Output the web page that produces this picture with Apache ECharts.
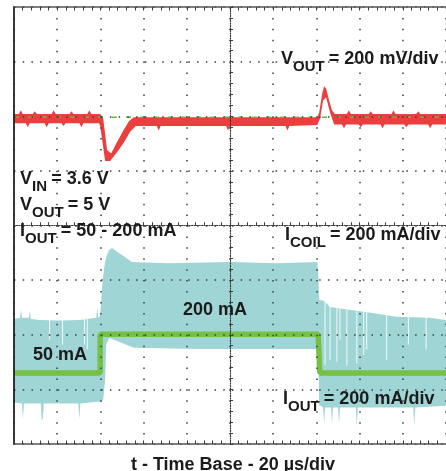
<!DOCTYPE html>
<html><head><meta charset="utf-8">
<script src="https://cdn.jsdelivr.net/npm/echarts@6/dist/echarts.min.js"></script>
<style>html,body{margin:0;padding:0;background:#fff}#c{width:446px;height:471px}</style>
</head><body><div id="c"></div>
<script>
// Horizontal: time in µs relative to screen centre (20 µs/div). Vertical: graticule divisions.
const timeTicks = [-100, 100, 20];   // min, max, interval
const divTicks = [-4, 4, 1];

// V_OUT trace (red) envelope
const redUpT = [-100,-97.7,-96.8,-95.9,-91.3,-90.4,-89.4,-82.6,-81.6,-80.7,-74.3,-73.4,-72.5,-66.1,-65.1,-64.2,-60.1,
  -58.7,-56.9,-55.0,-52.3,-49.5,-46.8,-44.5,
  40.4,41.3,42.7,43.6,44.5,45.9,47.2,
  48.6,54.1,55.0,56.0,64.2,65.1,66.1,74.8,75.7,76.6,86.2,87.2,88.1,100];
const redUpV = [2.04,2.04,2.11,2.04,2.04,2.09,2.04,2.04,2.11,2.04,2.04,2.09,2.04,2.04,2.11,2.04,2.04,
  1.96,1.38,1.32,1.53,1.73,1.91,1.98,
  1.98,2.07,2.42,2.55,2.51,2.29,2.11,
  2.04,2.04,2.11,2.04,2.04,2.09,2.04,2.04,2.11,2.04,2.04,2.09,2.04,2.04];
const redLoT = [-100,-94.5,-93.6,-92.7,-85.8,-84.9,-83.9,-78.0,-77.1,-76.1,-69.7,-68.8,-67.9,-60.6,
  -60.1,-57.8,-55.5,-52.3,-49.1,-46.3,-43.6,
  -33.9,-33.0,-32.1,-1.8,-0.9,0,25.7,26.6,27.5,
  40.4,41.7,43.1,44.5,46.3,48.2,
  51.8,52.8,53.7,59.6,60.6,61.5,69.7,70.6,71.6,80.7,81.6,82.6,91.7,92.7,93.6,100];
const redLoV = [1.87,1.87,1.80,1.87,1.87,1.80,1.87,1.87,1.82,1.87,1.87,1.80,1.87,1.87,
  1.82,1.18,1.18,1.34,1.52,1.71,1.82,
  1.82,1.74,1.82,1.82,1.74,1.82,1.82,1.74,1.82,
  1.84,1.96,2.29,2.35,2.07,1.85,
  1.85,1.78,1.85,1.85,1.80,1.85,1.85,1.78,1.85,1.85,1.80,1.85,1.85,1.78,1.85,1.85];
// green dashed reference level on the V_OUT channel
const refT = [-100, 100];
const refV = [1.98, 1.98];

// I_COIL trace (cyan) envelope
const cyUpT = [-100,-97.2,-96.8,-96.3,-93.1,-92.7,-92.2,-88.1,-78.9,-69.7,-61.9,-61.5,-61.0,-60.1,-59.2,-58.3,-57.3,-56.0,-54.6,-52.3,-50.0,-45.4,-28.4,0,22.0,40.4,40.8,41.3,43.6,46.3,61.9,77.1,92.2,100];
const cyUpV = [-1.71,-1.69,-1.54,-1.69,-1.69,-1.56,-1.71,-1.73,-1.74,-1.73,-1.69,-1.51,-1.69,-1.65,-1.12,-0.78,-0.58,-0.45,-0.41,-0.48,-0.54,-0.67,-0.69,-0.67,-0.69,-0.67,-0.81,-1.36,-1.38,-1.49,-1.58,-1.67,-1.69,-1.73];
const cyLoT = [-100,-96.3,-95.9,-95.4,-87.6,-87.2,-86.7,-86.2,-70.2,-69.7,-69.3,-60.6,-60.1,-58.7,-57.8,-57.3,-56.0,-53.7,-50.0,-44.5,-14.7,40.4,40.8,41.3,43.1,43.6,44.0,46.8,47.2,47.7,50.0,50.5,50.9,58.3,58.7,59.2,84.9,85.3,85.8,100];
const cyLoV = [-3.24,-3.26,-3.55,-3.26,-3.26,-3.55,-3.55,-3.26,-3.26,-3.55,-3.26,-3.22,-3.24,-3.19,-2.82,-2.18,-2.06,-2.09,-2.15,-2.24,-2.26,-2.26,-2.27,-3.28,-3.33,-3.64,-3.33,-3.33,-3.64,-3.33,-3.33,-3.64,-3.33,-3.33,-3.68,-3.33,-3.33,-3.68,-3.33,-3.30];
// gaps (white streaks) inside the I_COIL band
const gapT = [-83.5,-77.5,-67.4,-66.1,44.0,46.3,49.5,50.9,54.1,58.7,61.9,63.3,72.5,82.6,90.8];
const gapTop = -1.2;
const gapLo = [-2.09,-2.18,-2.18,-2.27,-2.55,-2.46,-2.49,-2.09,-2.57,-2.53,-2.37,-2.27,-2.46,-2.18,-2.27];

// I_OUT trace (green)
const ioutT = [-100, -60.1, -60.1, 40.8, 41.6, 100];
const ioutV = [-2.70, -2.70, -1.99, -1.99, -2.70, -2.70];

const FONT = '"Liberation Sans", Arial, Helvetica, sans-serif';
const TXT = '#1b1b1b';
const GRID = '#3c3c3c';

const chart = echarts.init(document.getElementById('c'), null, {renderer: 'canvas'});

function band(upT, upV, loT, loV, color, z) {
  return {
    type: 'custom', z: z, silent: true, clip: true,
    xAxisIndex: 0, yAxisIndex: 0,
    data: [[0, 0]],
    renderItem: function (params, api) {
      const pts = [];
      for (let i = 0; i < upT.length; i++) pts.push(api.coord([upT[i], upV[i]]));
      for (let i = loT.length - 1; i >= 0; i--) pts.push(api.coord([loT[i], loV[i]]));
      return {type: 'polygon', shape: {points: pts}, style: {fill: color}};
    }
  };
}

const rich = {
  m: {fontFamily: FONT, fontWeight: 'bold', fontSize: 18, lineHeight: 30, fill: TXT, color: TXT},
  s: {fontFamily: FONT, fontWeight: 'bold', fontSize: 15, lineHeight: 18, verticalAlign: 'bottom', fill: TXT, color: TXT}
};
function label(x, y, text) {
  return {type: 'text', x: x, y: y, z: 20, silent: true,
    style: {text: text, rich: rich, align: 'left', verticalAlign: 'top', font: 'bold 18px ' + FONT, fill: TXT}};
}

const tickStyle = {color: GRID, width: 1};

const option = {
  animation: false,
  backgroundColor: '#fff',
  grid: {left: 14, top: 7, width: 436, height: 437, show: false},
  xAxis: [
    { // centre horizontal line + vertical grid lines
      type: 'value', min: timeTicks[0], max: timeTicks[1], interval: timeTicks[2], z: 6,
      axisLine: {show: true, onZero: true, onZeroAxisIndex: 0, lineStyle: {color: GRID, width: 1.2, type: [1.2, 1.3]}},
      axisTick: {show: true, inside: true, length: 3, lineStyle: tickStyle},
      minorTick: {show: true, splitNumber: 5, length: 3, lineStyle: tickStyle},
      axisLabel: {show: false},
      splitLine: {show: true, lineStyle: {color: GRID, width: 1.5, type: [1.5, 9.425]}}
    },
    {
      type: 'value', min: timeTicks[0], max: timeTicks[1], interval: timeTicks[2], z: 6,
      axisLine: {show: false, onZero: true, onZeroAxisIndex: 0},
      axisTick: {show: true, inside: false, length: 3, lineStyle: tickStyle},
      minorTick: {show: true, splitNumber: 5, length: 3, lineStyle: tickStyle},
      axisLabel: {show: false}, splitLine: {show: false}
    },
    { // top border
      type: 'value', position: 'top', min: timeTicks[0], max: timeTicks[1], interval: timeTicks[2], z: 6,
      axisLine: {show: true, onZero: false, lineStyle: {color: '#555', width: 1.6}},
      axisTick: {show: true, inside: true, length: 3.5, lineStyle: tickStyle},
      minorTick: {show: true, splitNumber: 5, length: 3.5, lineStyle: tickStyle},
      axisLabel: {show: false}, splitLine: {show: false}
    },
    { // bottom border
      type: 'value', position: 'bottom', min: timeTicks[0], max: timeTicks[1], interval: timeTicks[2], z: 6,
      axisLine: {show: true, onZero: false, lineStyle: {color: '#555', width: 1.6}},
      axisTick: {show: true, inside: true, length: 3.5, lineStyle: tickStyle},
      minorTick: {show: true, splitNumber: 5, length: 3.5, lineStyle: tickStyle},
      axisLabel: {show: false}, splitLine: {show: false}
    }
  ],
  yAxis: [
    { // centre vertical line + horizontal grid lines
      type: 'value', min: divTicks[0], max: divTicks[1], interval: divTicks[2], z: 6,
      axisLine: {show: true, onZero: true, onZeroAxisIndex: 0, lineStyle: {color: GRID, width: 1.2, type: [1.2, 1.3]}},
      axisTick: {show: true, inside: true, length: 3, lineStyle: tickStyle},
      minorTick: {show: true, splitNumber: 5, length: 3, lineStyle: tickStyle},
      axisLabel: {show: false},
      splitLine: {show: true, lineStyle: {color: GRID, width: 1.5, type: [1.5, 7.22]}}
    },
    {
      type: 'value', min: divTicks[0], max: divTicks[1], interval: divTicks[2], z: 6,
      axisLine: {show: false, onZero: true, onZeroAxisIndex: 0},
      axisTick: {show: true, inside: false, length: 3, lineStyle: tickStyle},
      minorTick: {show: true, splitNumber: 5, length: 3, lineStyle: tickStyle},
      axisLabel: {show: false}, splitLine: {show: false}
    },
    { // left border
      type: 'value', position: 'left', min: divTicks[0], max: divTicks[1], interval: divTicks[2], z: 6,
      axisLine: {show: true, onZero: false, lineStyle: {color: '#222', width: 1.8}},
      axisTick: {show: false}, axisLabel: {show: false}, splitLine: {show: false}
    }
  ],
  series: [
    band(cyUpT, cyUpV, cyLoT, cyLoV, '#9fd6d5', 2),
    {
      type: 'custom', z: 2.5, silent: true, xAxisIndex: 0, yAxisIndex: 0,
      data: gapT.map((t, i) => [t, gapTop, gapLo[i]]),
      renderItem: function (params, api) {
        const p1 = api.coord([api.value(0), api.value(1)]);
        const p2 = api.coord([api.value(0), api.value(2)]);
        return {type: 'line', shape: {x1: p1[0], y1: p1[1], x2: p2[0], y2: p2[1]},
          style: {stroke: '#ffffff', lineWidth: 1, opacity: 0.85}};
      }
    },
    band(redUpT, redUpV, redLoT, redLoV, '#e9403f', 3),
    {
      type: 'line', z: 4, silent: true, xAxisIndex: 0, yAxisIndex: 0, symbol: 'none',
      data: refT.map((t, i) => [t, refV[i]]),
      lineStyle: {color: '#66b83c', width: 1.5, type: [5, 9]}
    },
    {
      type: 'line', z: 4, silent: true, xAxisIndex: 0, yAxisIndex: 0, symbol: 'none',
      data: ioutT.map((t, i) => [t, ioutV[i]]),
      lineStyle: {color: '#76c043', width: 5.5}
    }
  ],
  graphic: [
    label(281, 44, '{m|V}{s|OUT }{m|= 200 mV/div}'),
    label(20, 164, '{m|V}{s|IN }{m|= 3.6 V}'),
    label(20, 190, '{m|V}{s|OUT }{m|= 5 V}'),
    label(20, 216, '{m|I}{s|OUT }{m|= 50 - 200 mA}'),
    label(285, 220, '{m|I}{s|COIL }{m|= 200 mA/div}'),
    label(183, 295, '{m|200 mA}'),
    label(33, 340, '{m|50 mA}'),
    label(283, 384, '{m|I}{s|OUT }{m|= 200 mA/div}'),
    {type: 'text', x: 233, y: 456, z: 20, silent: true,
      style: {text: 't - Time Base - 20 µs/div', font: 'bold 18px ' + FONT, fill: TXT, align: 'center', verticalAlign: 'top'}}
  ]
};
chart.setOption(option);
</script>
</body></html>
